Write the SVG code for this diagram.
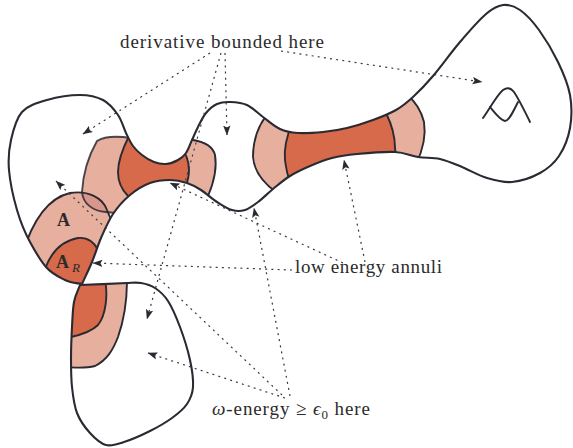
<svg xmlns="http://www.w3.org/2000/svg" xmlns:xlink="http://www.w3.org/1999/xlink" width="573" height="448" viewBox="0 0 573 448">
<defs>
<style>
.o{fill:none;stroke:#2b2a33;stroke-width:2.1;stroke-linejoin:round;stroke-linecap:round}
.e{fill:none;stroke:#2b2a33;stroke-width:1.9;stroke-linecap:round}
.lp{fill:#e7af9d}
.dk{fill:#d66a4a}
.ov{fill:#d8978a}
.d{fill:none;stroke:#3a3a40;stroke-width:1.2;stroke-dasharray:2 4.2;marker-end:url(#ah)}
.t{font-family:"Liberation Serif","Times New Roman",serif;font-size:19px;fill:#2b2b2b}
.b{font-family:"Liberation Serif","Times New Roman",serif;font-size:18px;font-weight:bold;fill:#2b2b2b}
</style>
<path id="mainP" d="M82,284 C85.3,276.7 88.8,269.7 92,262 S97.5,246 101,238 S108.2,221.2 113,214 S123.8,200.2 130,195 S143.3,185.5 150,183 S163.8,180 170,180 S181.8,181.3 187,183 S196,186.8 201,190 S211.8,198.7 217,202 S227.3,208.7 232,210 S240.7,211.3 245,210 S253.3,205.5 258,202 S267.7,193.3 273,189 S283.8,179.8 290,176 S303,169 310,166 S324.2,160 332,158 S346.5,155 357,154 S384.8,151.5 395,152 S410.5,155.8 418,157 S432.7,157.3 440,159 S454.2,163.8 462,167 S478.7,175.5 487,178 S503.2,182.8 512,182 S532.2,177.3 540,173 S554,163.5 559,156 S568.2,138.2 570,128 S572,106 570,95 S563.2,72.8 558,62 S545.3,38.7 539,30 S526,14.2 520,10 S508.7,4.3 503,5 S493.2,7.8 486,14 S468.8,31.7 460,42 S440.8,66.8 433,76 S419.2,91.3 413,97 S402.7,106.2 396,110 S381.2,117 373,120 S355.3,126 347,128 S331.2,131.2 323,132 S305.2,133.5 298,133 S285.8,131.7 280,129 S268.5,121 263,117 S252.5,107.5 247,105 S235,102.2 230,102 S221,102.2 217,104 S209.2,109.2 206,113 S200.3,122.5 198,127 S194,135.7 192,140 S188.3,149.7 186,153 S181.3,158.2 178,160 S170,163.7 166,164 S158,163.5 154,162 S145.5,157.7 142,155 S135.7,149.7 133,146 S128.5,138.2 126,133 S121.8,120.5 118,115 S109.3,103.3 103,100 S89.3,95 80,95 S56.7,97.2 47,100 S28,105.3 22,112 S13.2,130.3 11,140 S8,158.3 9,170 S13.5,198 17,210 S25,232.8 30,242 S40,260 46,267 S59,277 65,280 S76.7,283 82,284 Z"/>
<path id="lowP" d="M80,285 C90,284.7 121.3,283.2 127,283 S136.3,282.2 141,283 S150.5,285 155,288 S163.8,294.5 168,301 S176.3,317.2 180,327 S187.8,350 190,360 S193.5,379.7 193,387 S190.5,398.8 187,404 S178.2,413.5 172,418 S158,427 150,431 S131.3,439.7 124,442 S111.7,446.5 106,445 S94.8,438.3 90,433 S80,420.7 77,413 S73,396.2 72,387 S71,368 71,358 S71.5,336.3 72,327 S72.7,309 74,302 S78,290.7 80,285 Z"/>
<path id="upP" d="M97,141 C105,136 118,136 131,138 L140,128 L190,128 L194,139 C205,142 213,147 215,155 C217,167 214,182 208,196 L209,205 L150,232 L113,213 L106,212 C93,211 83,204 82,192 C83,174 89,155 97,141 Z"/>
<path id="aP" d="M22,255 C32,222 48,198 70,193 C88,190 103,198 107,210 L112,222 L115,300 L30,300 Z"/>
<clipPath id="cMain"><use xlink:href="#mainP"/></clipPath>
<clipPath id="cLow"><use xlink:href="#lowP"/></clipPath>
<clipPath id="cUp"><use xlink:href="#upP"/></clipPath>
<marker id="ah" viewBox="0 0 10 8" refX="9.5" refY="4" markerWidth="10" markerHeight="8" markerUnits="userSpaceOnUse" orient="auto">
<path d="M0,0.3 L10,4 L0,7.7 L2,4 Z" fill="#2b2a33"/>
</marker>
</defs>
<rect width="573" height="448" fill="#fff"/>

<g id="surface">
<use xlink:href="#mainP" fill="#fff"/>
<g clip-path="url(#cMain)">
<use xlink:href="#aP" class="lp"/>
<path class="dk" d="M40,290 C44,262 56,242 78,238 C88,237 95,243 98,250 L106,262 L110,300 Z"/>
<use xlink:href="#upP" class="lp"/>
<g clip-path="url(#cUp)"><use xlink:href="#aP" class="ov"/></g>
<path class="dk" d="M126,128 L129,136 C124,146 118,160 118,172 C118,183 122,190 128,196 L186,192 L186,186 C188,180 189,176 189,170 C189,162 186,153 180,146 L185,128 Z"/>
<path class="lp" d="M266,116 C257,128 253,142 253,157 C254,170 262,182 274,191 L300,200 L418,165 L416,164 C423,150 426,135 424,122 C421,110 416,102 407,95 L405,90 L340,110 Z"/>
<path class="dk" d="M292,124 C286,138 284,150 285,160 C286,168 287,174 290,182 L340,170 L397,158 L396,150 C395,138 392,126 386,113 L340,115 Z"/>
<path class="e" d="M22,255 C32,222 48,198 70,193 C88,190 103,198 107,210 L112,222"/>
<path class="e" d="M40,290 C44,262 56,242 78,238 C88,237 95,243 98,250 L104,260"/>
<path class="e" stroke-opacity="0.85" d="M131,138 C118,136 105,136 97,141 C89,155 83,174 82,192 C83,204 93,211 106,212 L116,213"/>
<path class="e" d="M193,140 C205,142 213,147 215,155 C217,167 214,182 208,196"/>
<path class="e" d="M129,136 C124,146 118,160 118,172 C118,183 122,190 128,196"/>
<path class="e" d="M180,146 C186,153 189,162 189,170 C189,176 188,180 186,186"/>
<path class="e" d="M266,116 C257,128 253,142 253,157 C254,170 262,182 276,192"/>
<path class="e" d="M407,95 C416,102 421,110 424,122 C426,135 423,150 416,164"/>
<path class="e" d="M292,124 C286,138 284,150 285,160 C286,168 287,174 290,182"/>
<path class="e" d="M386,113 C392,125 395,137 395,148 L396,158"/>
</g>
<use xlink:href="#mainP" class="o"/>
</g>

<g id="lower-bubble">
<use xlink:href="#lowP" fill="#fff"/>
<g clip-path="url(#cLow)">
<path class="lp" d="M66,278 L128,278 L127,283 C127,300 124,320 118,337 C113,350 107,360 95,366 C87,368 78,368 66,367 Z"/>
<path class="dk" d="M66,278 L105,278 L105,284 C108,295 106,315 98,325 C92,331 82,335 66,338 Z"/>
<path class="e" d="M127,280 C127,300 124,320 118,337 C113,350 107,360 95,366 C87,368 78,368 66,367"/>
<path class="e" d="M105,280 C108,295 106,315 98,325 C92,331 82,335 66,338"/>
</g>
<use xlink:href="#lowP" class="o"/>
</g>

<g id="symbol">
<path class="e" d="M483,118 C490,108 497,95 503,90 C507,87 511,88 514,92 C520,101 525,112 530,122"/>
<path class="e" d="M490,107 C495,113 500,120 505,121 C509,121 513,112 518,102"/>
</g>

<g id="region-labels">
<text class="b" x="57" y="226">A</text>
<text class="b" x="56" y="268">A</text>
<text x="72" y="272" font-family="Liberation Serif, serif" font-size="13" font-style="italic" fill="#2b2b2b">R</text>
</g>

<g id="connectors">
<path class="d" d="M210,53 L83,134"/>
<path class="d" d="M221,53 L147,319"/>
<path class="d" d="M225,53 L227,135"/>
<path class="d" d="M281,51 L482,82"/>
<path class="d" d="M292,270 L93,263"/>
<path class="d" d="M343,263 L170,183"/>
<path class="d" d="M365,262 L344,160"/>
<path class="d" d="M290,396 L254,208"/>
<path class="d" d="M282,395 L56,181"/>
<path class="d" d="M285,398 L148,353"/>
</g>

<g id="labels">
<text class="t" x="120" y="48" textLength="204" lengthAdjust="spacing">derivative bounded here</text>
<text class="t" x="295" y="273" textLength="147" lengthAdjust="spacing">low energy annuli</text>
<text class="t" x="212" y="415" letter-spacing="0.9"><tspan font-style="italic">ω</tspan>-energy ≥ <tspan font-style="italic">ϵ</tspan><tspan font-size="13" dy="4">0</tspan><tspan dy="-4"> here</tspan></text>
</g>
</svg>
